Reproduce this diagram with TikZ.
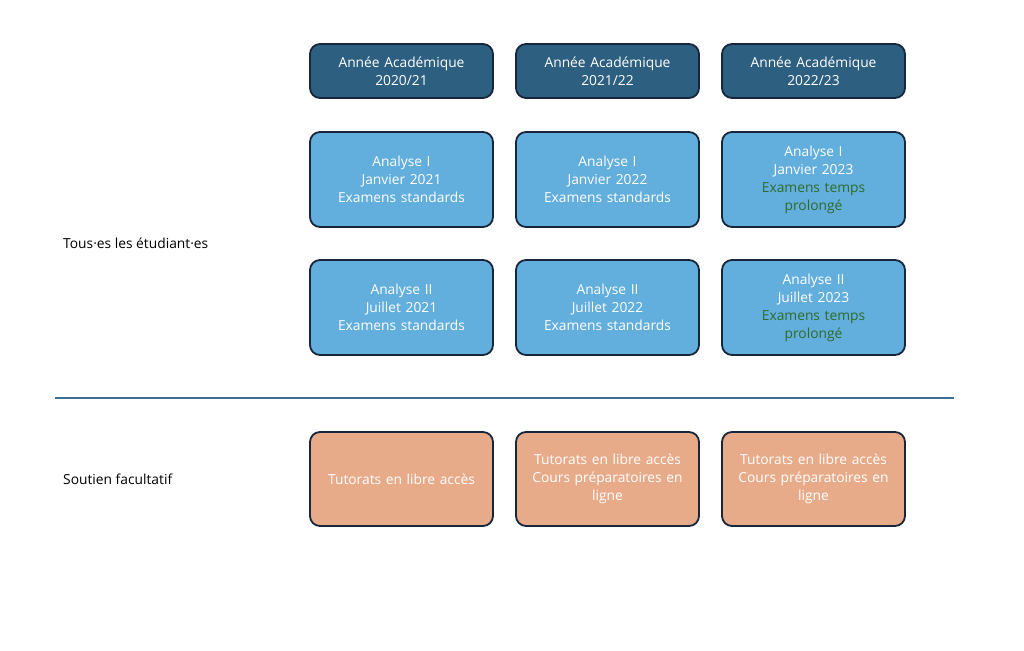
\documentclass[tikz,border=0pt]{standalone}
\usepackage{fontspec}
\setmainfont{Open Sans}
\definecolor{hdrfill}{HTML}{2D5F80}
\definecolor{boxline}{HTML}{17263A}
\definecolor{lightfill}{HTML}{62AEDC}
\definecolor{orangefill}{HTML}{E8AB89}
\definecolor{greentext}{HTML}{2F6B2B}
\definecolor{sepline}{HTML}{3D6F98}
\begin{document}
\begin{tikzpicture}[x=1pt,y=-1pt,
  cell/.style={draw=boxline, line width=1.8pt, rounded corners=10pt, minimum width=183pt, text width=175pt, align=center, text=white, font=\fontsize{13.8}{18}\selectfont, inner sep=0pt},
  hdr/.style={cell, fill=hdrfill, minimum height=54pt},
  exam/.style={cell, fill=lightfill, minimum height=95pt},
  supp/.style={cell, fill=orangefill, minimum height=94pt},
  lbl/.style={anchor=west, font=\fontsize{13.8}{18}\selectfont, text=black, inner sep=0pt}
]
\useasboundingbox (0,0) rectangle (1024,650);
\node[hdr] (h1) at (401.5,71) {Année Académique\\2020/21};
\node[hdr] (h2) at (607.5,71) {Année Académique\\2021/22};
\node[hdr] (h3) at (813.5,71) {Année Académique\\2022/23};
\node[exam] (a1) at (401.5,179.5) {Analyse I\\Janvier 2021\\Examens standards};
\node[exam] (a2) at (607.5,179.5) {Analyse I\\Janvier 2022\\Examens standards};
\node[exam] (a3) at (813.5,179.5) {Analyse I\\Janvier 2023\\\textcolor{greentext}{Examens temps}\\\textcolor{greentext}{prolongé}};
\node[exam] (b1) at (401.5,307.5) {Analyse II\\Juillet 2021\\Examens standards};
\node[exam] (b2) at (607.5,307.5) {Analyse II\\Juillet 2022\\Examens standards};
\node[exam] (b3) at (813.5,307.5) {Analyse II\\Juillet 2023\\\textcolor{greentext}{Examens temps}\\\textcolor{greentext}{prolongé}};
\node[supp] (s1) at (401.5,479) {Tutorats en libre accès};
\node[supp] (s2) at (607.5,479) {Tutorats en libre accès\\Cours préparatoires en\\ligne};
\node[supp] (s3) at (813.5,479) {Tutorats en libre accès\\Cours préparatoires en\\ligne};
\node[lbl] (l1) at (63,243) {Tous·es les étudiant·es};
\node[lbl] (l2) at (63,479) {Soutien facultatif};
\coordinate (lineL) at (55,398);
\coordinate (lineR) at (954,398);
\draw[sepline, line width=1.8pt] (lineL) -- (lineR);
\end{tikzpicture}
\end{document}
